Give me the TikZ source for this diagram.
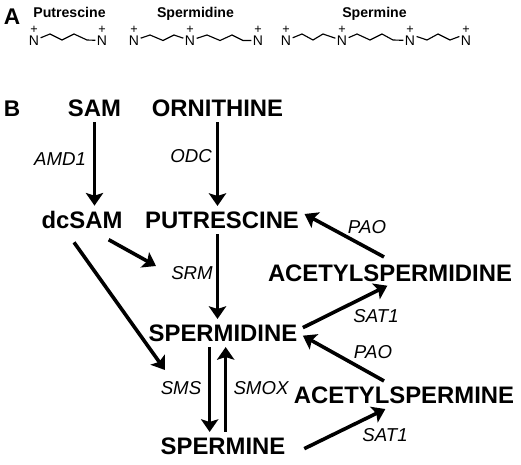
\documentclass[tikz,border=0pt]{standalone}
\usepackage{fontspec}
\setmainfont{Liberation Sans}
\usetikzlibrary{arrows.meta,calc}

\tikzset{
  metab/.style={font=\fontsize{17.9pt}{20pt}\selectfont\bfseries, inner sep=4pt},
  enzyme/.style={font=\fontsize{14pt}{16pt}\selectfont\itshape, inner sep=0pt},
  panel/.style={font=\fontsize{17pt}{19pt}\selectfont\bfseries, inner sep=0pt},
  polyname/.style={font=\fontsize{10.6pt}{12pt}\selectfont\bfseries, inner sep=0pt, text height=8pt, text depth=2pt},
  amine/.style={font=\fontsize{10.5pt}{12pt}\selectfont, inner sep=1pt,
    label={[font=\fontsize{9.5pt}{11pt}\selectfont, inner sep=0pt, yshift=0.5pt]above:+}},
  bond/.style={line width=0.85pt},
  conn/.style={line width=2.7pt, -{Stealth[length=9.5pt,width=13pt,inset=2pt]}},
}

\begin{document}
\begin{tikzpicture}[x=0.75pt,y=-0.75pt]
  \useasboundingbox (0,0) rectangle (521,464);

  % panel A
  \node[panel] (pa) at (12,17) {A};
  \node[polyname] (tput) at (69.5,13) {Putrescine};
  \node[polyname] (tspd) at (195.5,13) {Spermidine};
  \node[polyname] (tspm) at (374.5,13) {Spermine};

  \foreach \name/\x in {a1/34,a2/102,b1/134,b2/190,b3/258,c1/286,c2/342,c3/410,c4/466}
    \node[amine] (\name) at (\x,40.5) {N};

  \draw[bond] (a1) -- (50,34) -- (62,40) -- (74,34) -- (87,40) -- (a2);
  \draw[bond] (b1) -- (150,35) -- (163,40.5) -- (174,35) -- (b2);
  \draw[bond] (b2) -- (207,35) -- (220,40.5) -- (232,35) -- (243,40.5) -- (b3);
  \draw[bond] (c1) -- (302,34) -- (313,40) -- (323,34) -- (c2);
  \draw[bond] (c2) -- (357,34) -- (370,40) -- (382,34) -- (393,40) -- (c3);
  \draw[bond] ([yshift=3pt]c3.east) -- (427,40) -- (438,34) -- (450,40) -- ([yshift=3pt]c4.west);

  % panel B
  \node[panel] (pb) at (12,109) {B};
  \node[metab] (sam) at (94.5,108) {SAM};
  \node[metab] (orn) at (217.5,108) {ORNITHINE};
  \node[metab] (dcsam) at (82,220) {dcSAM};
  \node[metab] (put) at (222,220) {PUTRESCINE};
  \node[metab] (acsd) at (390,273) {ACETYLSPERMIDINE};
  \node[metab] (spd) at (223,333) {SPERMIDINE};
  \node[metab] (acsp) at (404,395) {ACETYLSPERMINE};
  \node[metab] (spm) at (223,446) {SPERMINE};

  \node[enzyme] (amd) at (60,159) {AMD1};
  \node[enzyme] (odc) at (191,156) {ODC};
  \node[enzyme] (srm) at (192,273) {SRM};
  \node[enzyme] (pao1) at (367,227) {PAO};
  \node[enzyme] (sat1) at (376,316) {SAT1};
  \node[enzyme] (pao2) at (373,352) {PAO};
  \node[enzyme] (sms) at (181,388) {SMS};
  \node[enzyme] (smox) at (261,388) {SMOX};
  \node[enzyme] (sat2) at (385,435) {SAT1};

  \coordinate (srmin) at (156,266);
  \coordinate (spdin) at (165,370);

  \draw[conn] (sam.south) -- (sam.south |- dcsam.north);
  \draw[conn] (orn.south) -- (orn.south |- put.north);
  \draw[conn] (orn.south |- put.south) -- (orn.south |- spd.north);
  \draw[conn] ([xshift=20pt,yshift=-4pt]dcsam.south) -- (srmin);
  \draw[conn] ([xshift=-6pt,yshift=-6pt]dcsam.south) -- (spdin);
  \draw[conn] ([xshift=-10pt]spd.south) -- ([xshift=-10pt]spm.north);
  \draw[conn] ([xshift=2pt]spm.north) -- ([xshift=2pt]spd.south);
  \draw[conn] ([yshift=4pt]spd.east) -- ([xshift=-2pt,yshift=1pt]acsd.south);
  \draw[conn] ([xshift=-4.5pt,yshift=1.5pt]acsd.north) -- ([yshift=4.5pt]put.east);
  \draw[conn] ([xshift=-15pt]acsp.north) -- ([yshift=-2pt]spd.east);
  \draw[conn] ([xshift=10pt,yshift=-2pt]spm.east) -- ([xshift=-14pt]acsp.south);
\end{tikzpicture}
\end{document}
